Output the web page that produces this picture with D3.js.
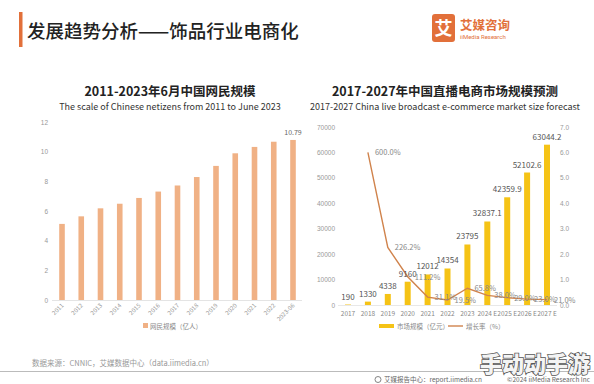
<!DOCTYPE html>
<html>
<head>
<meta charset="utf-8">
<script src="https://cdn.jsdelivr.net/npm/d3@7"></script>
<style>
  body { margin: 0; background: #fff; }
  svg { display: block; font-family: "Noto Sans CJK SC", "Noto Sans", sans-serif; }
</style>
</head>
<body>
<svg id="chart"></svg>
<script>
const width = 594;
const height = 384;

// left chart: netizens (100 million)
const netYears = ["2011", "2012", "2013", "2014", "2015", "2016", "2017", "2018", "2019", "2020", "2021", "2022", "2023-06"];
const netValues = [5.13, 5.64, 6.18, 6.49, 6.88, 7.31, 7.72, 8.29, 9.04, 9.89, 10.32, 10.67, 10.79];
const netTicks = [0, 2, 4, 6, 8, 10, 12];

// right chart: live e-commerce market
const liveYears = ["2017", "2018", "2019", "2020", "2021", "2022", "2023", "2024 E", "2025 E", "2026 E", "2027 E"];
const liveSize = [190, 1330, 4338, 9160, 12012, 14354, 23795, 32837.1, 42359.9, 52102.6, 63044.2];
const liveSizeLabels = ["190", "1330", "4338", "9160", "12012", "14354", "23795", "32837.1", "42359.9", "52102.6", "63044.2"];
const growthYears = ["2018", "2019", "2020", "2021", "2022", "2023", "2024 E", "2025 E", "2026 E", "2027 E"];
const growthRate = [6.0, 2.262, 1.112, 0.311, 0.195, 0.658, 0.380, 0.290, 0.230, 0.210];
const growthLabels = ["600.0%", "226.2%", "111.2%", "31.1%", "19.5%", "65.8%", "38.0%", "29.0%", "23.0%", "21.0%"];
const sizeTicks = [0, 10000, 20000, 30000, 40000, 50000, 60000, 70000];
const rateTicks = [0, 1, 2, 3, 4, 5, 6, 7];

const svg = d3.select("#chart")
  .attr("width", width)
  .attr("height", height);

// header
svg.append("rect").attr("x", 19).attr("y", 12).attr("width", 3.5).attr("height", 35).attr("fill", "#e2703a");
svg.append("text")
  .attr("x", 27).attr("y", 38)
  .attr("font-size", 18.5).attr("font-weight", 500).attr("fill", "#222")
  .text("发展趋势分析——饰品行业电商化");

svg.append("rect").attr("x", 432).attr("y", 14).attr("width", 23).attr("height", 28).attr("rx", 3).attr("fill", "#e2703a");
svg.append("text").attr("x", 443.5).attr("y", 35).attr("text-anchor", "middle")
  .attr("font-size", 18).attr("font-weight", 700).attr("fill", "#fff").text("艾");
svg.append("text").attr("x", 460).attr("y", 30)
  .attr("font-size", 12.5).attr("font-weight", 700).attr("fill", "#e2703a").text("艾媒咨询");
svg.append("text").attr("x", 460).attr("y", 39)
  .attr("font-size", 6).attr("fill", "#e2703a").attr("font-family", "Roboto, sans-serif").text("iiMedia Research");

// ---------- left chart ----------
svg.append("text").attr("x", 170).attr("y", 96).attr("text-anchor", "middle")
  .attr("font-size", 12.5).attr("font-weight", 700).attr("fill", "#222").text("2011-2023年6月中国网民规模");
svg.append("text").attr("x", 170).attr("y", 110).attr("text-anchor", "middle")
  .attr("font-size", 9).attr("fill", "#333").text("The scale of Chinese netizens from 2011 to June 2023");

const xNet = d3.scalePoint().domain(netYears).range([62, 293]);
const yNet = d3.scaleLinear().domain([0, 12]).range([300, 122]);

svg.append("line").attr("x1", 52).attr("x2", 302).attr("y1", 300.5).attr("y2", 300.5)
  .attr("stroke", "#e4e4e4");

const yNetAxis = svg.append("g")
  .attr("transform", "translate(48,0)")
  .call(d3.axisLeft(yNet).tickValues(netTicks).tickSize(0).tickPadding(0));
yNetAxis.select(".domain").remove();
yNetAxis.selectAll("text").attr("fill", "#999").attr("font-size", 6.5);

svg.selectAll(".netbar")
  .data(netValues)
  .enter()
  .append("rect")
  .attr("class", "netbar")
  .attr("x", (d, i) => xNet(netYears[i]) - 2.8)
  .attr("y", d => yNet(d))
  .attr("width", 5.6)
  .attr("height", d => yNet(0) - yNet(d))
  .attr("fill", "#f0b185");

svg.append("text")
  .attr("x", xNet(netYears[netYears.length - 1]))
  .attr("y", yNet(netValues[netValues.length - 1]) - 5)
  .attr("text-anchor", "middle").attr("font-size", 7).attr("fill", "#666")
  .text(netValues[netValues.length - 1].toFixed(2));

svg.selectAll(".netlabel")
  .data(netYears)
  .enter()
  .append("text")
  .attr("class", "netlabel")
  .attr("transform", d => `translate(${xNet(d) + 2}, ${306}) rotate(-45)`)
  .attr("text-anchor", "end")
  .attr("font-size", 6).attr("fill", "#999")
  .text(d => d);

svg.append("rect").attr("x", 143).attr("y", 323).attr("width", 5).attr("height", 5).attr("fill", "#f0b185");
svg.append("text").attr("x", 150).attr("y", 328.5)
  .attr("font-size", 6.5).attr("fill", "#888").text("网民规模（亿人）");

// ---------- right chart ----------
svg.append("text").attr("x", 445).attr("y", 96).attr("text-anchor", "middle")
  .attr("font-size", 12.5).attr("font-weight", 700).attr("fill", "#222").text("2017-2027年中国直播电商市场规模预测");
svg.append("text").attr("x", 445).attr("y", 110).attr("text-anchor", "middle")
  .attr("font-size", 9).attr("fill", "#333").text("2017-2027 China live broadcast e-commerce market size forecast");

const xLive = d3.scalePoint().domain(liveYears).range([348, 547]);
const ySize = d3.scaleLinear().domain([0, 70000]).range([305, 127]);
const yRate = d3.scaleLinear().domain([0, 7]).range([305, 127]);

const ySizeAxis = svg.append("g")
  .attr("transform", "translate(335,0)")
  .call(d3.axisLeft(ySize).tickValues(sizeTicks).tickFormat(d3.format("d")).tickSize(0).tickPadding(0));
ySizeAxis.select(".domain").remove();
ySizeAxis.selectAll("text").attr("fill", "#999").attr("font-size", 6.5);

const yRateAxis = svg.append("g")
  .attr("transform", "translate(560,0)")
  .call(d3.axisRight(yRate).tickValues(rateTicks).tickSize(0).tickPadding(0));
yRateAxis.select(".domain").remove();
yRateAxis.selectAll("text").attr("fill", "#999").attr("font-size", 6.5);

svg.append("line").attr("x1", 338).attr("x2", 557).attr("y1", 305.5).attr("y2", 305.5)
  .attr("stroke", "#e8e8e8");

svg.selectAll(".livebar")
  .data(liveSize)
  .enter()
  .append("rect")
  .attr("class", "livebar")
  .attr("x", (d, i) => xLive(liveYears[i]) - 3)
  .attr("y", d => ySize(d))
  .attr("width", 6)
  .attr("height", d => ySize(0) - ySize(d))
  .attr("fill", "#f5c316");

const line = d3.line()
  .x((d, i) => xLive(growthYears[i]))
  .y(d => yRate(d));

svg.append("path")
  .datum(growthRate)
  .attr("d", line)
  .attr("fill", "none")
  .attr("stroke", "#d0834c")
  .attr("stroke-width", 1.4);

svg.selectAll(".sizelabel")
  .data(liveSize)
  .enter()
  .append("text")
  .attr("class", "sizelabel")
  .attr("x", (d, i) => xLive(liveYears[i]))
  .attr("y", d => ySize(d) - 5)
  .attr("text-anchor", "middle")
  .attr("font-size", 8).attr("fill", "#555")
  .text((d, i) => liveSizeLabels[i]);

svg.selectAll(".ratelabel")
  .data(growthRate)
  .enter()
  .append("text")
  .attr("class", "ratelabel")
  .attr("x", (d, i) => xLive(growthYears[i]) + 7)
  .attr("y", d => yRate(d) + 3)
  .attr("font-size", 7.5).attr("fill", "#888")
  .text((d, i) => growthLabels[i]);

svg.selectAll(".livelabel")
  .data(liveYears)
  .enter()
  .append("text")
  .attr("class", "livelabel")
  .attr("x", d => xLive(d))
  .attr("y", 316)
  .attr("text-anchor", "middle")
  .attr("font-size", 6.5).attr("fill", "#888")
  .text(d => d);

svg.append("rect").attr("x", 379).attr("y", 324).attr("width", 15).attr("height", 4).attr("fill", "#f5c316");
svg.append("text").attr("x", 397).attr("y", 328.5)
  .attr("font-size", 6.5).attr("fill", "#888").text("市场规模（亿元）");
svg.append("line").attr("x1", 448).attr("x2", 463).attr("y1", 326).attr("y2", 326)
  .attr("stroke", "#d0834c").attr("stroke-width", 1.4);
svg.append("text").attr("x", 466).attr("y", 328.5)
  .attr("font-size", 6.5).attr("fill", "#888").text("增长率（%）");

// footer
svg.append("text").attr("x", 32).attr("y", 366)
  .attr("font-size", 7.5).attr("fill", "#999").text("数据来源：CNNIC，艾媒数据中心（data.iimedia.cn）");
svg.append("line").attr("x1", 0).attr("x2", 594).attr("y1", 371.5).attr("y2", 371.5)
  .attr("stroke", "#aaa").attr("stroke-width", 0.8);

// watermark (drawn under footer text)
svg.append("text").attr("x", 590).attr("y", 372).attr("text-anchor", "end")
  .attr("font-size", 22).attr("font-weight", 900)
  .attr("fill", "#f4f4f4").attr("stroke", "#555").attr("stroke-width", 1.6)
  .attr("paint-order", "stroke")
  .text("手动动手游");

svg.append("circle").attr("cx", 378).attr("cy", 379.5).attr("r", 3)
  .attr("fill", "none").attr("stroke", "#666").attr("stroke-width", 0.8);
svg.append("text").attr("x", 384).attr("y", 382)
  .attr("font-size", 6.5).attr("fill", "#666").text("艾媒报告中心：report.iimedia.cn");
svg.append("text").attr("x", 590).attr("y", 382).attr("text-anchor", "end")
  .attr("font-size", 6.5).attr("fill", "#666").text("©2024  iiMedia Research Inc");
</script>
</body>
</html>
